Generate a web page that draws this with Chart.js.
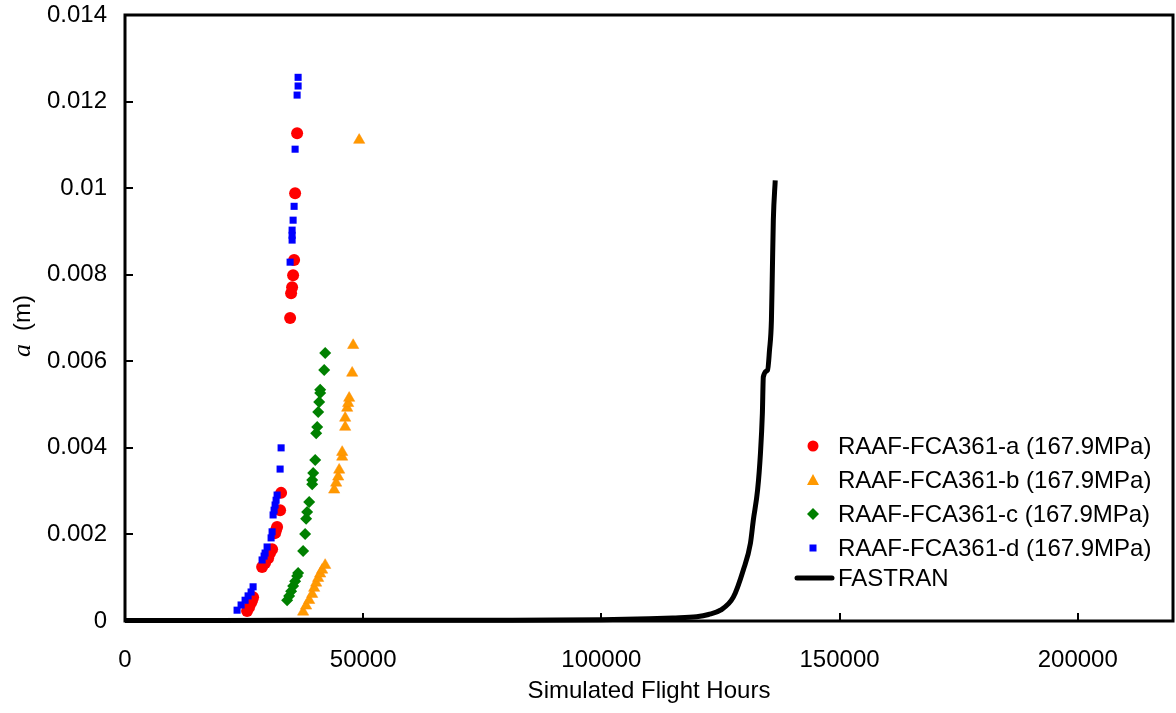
<!DOCTYPE html>
<html>
<head>
<meta charset="utf-8">
<script src="https://cdn.jsdelivr.net/npm/chart.js@4/dist/chart.umd.min.js"></script>
<style>
  html, body { margin: 0; padding: 0; background: #fff; overflow: hidden; }
  #wrap { width: 1176px; height: 713px; position: relative; }
  canvas { display: block; }
</style>
</head>
<body>
<div id="wrap"><canvas id="chart"></canvas></div>
<script>
// Messwerte RAAF-FCA361 (Stunden / Risslänge in m)
const aHours = [25630, 26050, 26470, 26680, 26890, 28780, 29410, 30040, 30460, 30880, 31510, 31720, 31930, 32560, 32770, 34660, 34870, 35080, 35290, 35500, 35710, 36130];
const aCrack = [0.00023, 0.00032, 0.00042, 0.00048, 0.00055, 0.00125, 0.00134, 0.00145, 0.00157, 0.00166, 0.00203, 0.0021, 0.00217, 0.00256, 0.00296, 0.0070, 0.00757, 0.00771, 0.00799, 0.00834, 0.00988, 0.01127];

const bHours = [37390, 38020, 38660, 39290, 39710, 40130, 40550, 40970, 41390, 42020, 43910, 44330, 44750, 44960, 45590, 45590, 46220, 46220, 46640, 46850, 47060, 47690, 47900, 49160];
const bCrack = [0.00021, 0.00035, 0.00048, 0.00062, 0.00076, 0.00088, 0.00099, 0.00109, 0.00118, 0.00129, 0.00303, 0.00319, 0.00333, 0.00349, 0.00379, 0.0039, 0.00448, 0.00469, 0.00492, 0.00503, 0.00515, 0.00573, 0.00637, 0.01111];

const cHours = [34030, 34450, 34870, 35290, 35710, 36130, 36340, 37390, 37810, 38020, 38230, 38660, 39290, 39290, 39500, 39920, 40130, 40340, 40550, 40760, 40970, 40970, 41810, 42020];
const cCrack = [0.00048, 0.00058, 0.00069, 0.00081, 0.00092, 0.00104, 0.00111, 0.00162, 0.00201, 0.00236, 0.00252, 0.00275, 0.00316, 0.00326, 0.00342, 0.00372, 0.00434, 0.00448, 0.00483, 0.00506, 0.00527, 0.00534, 0.0058, 0.00619];

const dHours = [23529, 24370, 25210, 25840, 26470, 26890, 28780, 29200, 29410, 29830, 30670, 30880, 31090, 31300, 31510, 31720, 31930, 32560, 32770, 34660, 35080, 35080, 35080, 35290, 35500, 35710, 36130, 36340, 36340];
const dCrack = [0.00025, 0.00037, 0.00048, 0.00058, 0.00067, 0.00079, 0.00141, 0.0015, 0.00157, 0.00171, 0.00192, 0.00206, 0.00245, 0.00256, 0.00268, 0.00279, 0.00291, 0.00351, 0.004, 0.00829, 0.0088, 0.00891, 0.00903, 0.00926, 0.00958, 0.0109, 0.01215, 0.01236, 0.01256];

// FASTRAN Vorhersage
const fastranHours = [0, 20000, 50000, 80000, 100000, 110000, 115000, 120000, 122500, 125000, 127700, 129800, 131300, 131900, 132800, 133400, 133800, 134000, 134900, 135300, 135700, 135900, 136100, 136500];
const fastranCrack = [0.00001, 0.00001, 0.00002, 0.00002, 0.00003, 0.00005, 0.00007, 0.0001, 0.00015, 0.00025, 0.00055, 0.00118, 0.0018, 0.00233, 0.00303, 0.00388, 0.0048, 0.00564, 0.0058, 0.00626, 0.00695, 0.00811, 0.00926, 0.01018];

const seriesNames = ['RAAF-FCA361-a (167.9MPa)', 'RAAF-FCA361-b (167.9MPa)', 'RAAF-FCA361-c (167.9MPa)', 'RAAF-FCA361-d (167.9MPa)', 'FASTRAN'];
const xTicks = [0, 50000, 100000, 150000, 200000];
const yTicks = [0, 0.002, 0.004, 0.006, 0.008, 0.01, 0.012, 0.014];

const FONT = '"Liberation Sans", Arial, sans-serif';

function toPoints(xs, ys) {
    return xs.map((x, i) => ({ x: x, y: ys[i] }));
}

// Rahmen, Tickmarken, Achsentitel und Legende
const framePlugin = {
    id: 'frame',
    afterDraw(chart) {
        const ctx = chart.ctx;
        const area = chart.chartArea;
        const xs = chart.scales.x;
        const ys = chart.scales.y;
        ctx.save();

        // Ticks nach innen
        ctx.strokeStyle = '#000';
        ctx.lineWidth = 2;
        ctx.beginPath();
        xTicks.forEach(v => {
            const px = Math.round(xs.getPixelForValue(v));
            ctx.moveTo(px, area.bottom);
            ctx.lineTo(px, area.bottom - 8);
        });
        yTicks.forEach(v => {
            const py = Math.round(ys.getPixelForValue(v));
            ctx.moveTo(area.left, py);
            ctx.lineTo(area.left + 8, py);
        });
        ctx.stroke();

        // Rahmen
        ctx.lineWidth = 3;
        ctx.strokeRect(area.left, area.top, area.right - area.left, area.bottom - area.top);

        // x-Titel
        ctx.fillStyle = '#000';
        ctx.font = '24px ' + FONT;
        ctx.textAlign = 'center';
        ctx.textBaseline = 'middle';
        ctx.fillText('Simulated Flight Hours', (area.left + area.right) / 2, 691);

        // y-Titel: kursives a + (m)
        ctx.save();
        ctx.translate(30, 357);
        ctx.rotate(-Math.PI / 2);
        ctx.textAlign = 'left';
        ctx.textBaseline = 'alphabetic';
        ctx.font = 'italic 26px "Liberation Serif", "Times New Roman", serif';
        ctx.fillText('a', 0, 0);
        const w = ctx.measureText('a').width;
        ctx.font = '24px ' + FONT;
        ctx.fillText('(m)', w + 13, 0);
        ctx.restore();

        // Legende
        const rows = [446, 480, 514, 548, 578];
        const mx = 813;
        chart.data.datasets.forEach((ds, i) => {
            const y = rows[i];
            ctx.fillStyle = ds.backgroundColor;
            ctx.beginPath();
            if (ds.pointStyle === 'circle') {
                ctx.arc(mx, y, 5.5, 0, Math.PI * 2);
                ctx.fill();
            } else if (ds.pointStyle === 'triangle') {
                ctx.moveTo(mx, y - 6);
                ctx.lineTo(mx + 6, y + 5);
                ctx.lineTo(mx - 6, y + 5);
                ctx.closePath();
                ctx.fill();
            } else if (ds.pointStyle === 'rectRot') {
                ctx.moveTo(mx, y - 6);
                ctx.lineTo(mx + 6, y);
                ctx.lineTo(mx, y + 6);
                ctx.lineTo(mx - 6, y);
                ctx.closePath();
                ctx.fill();
            } else if (ds.pointStyle === 'rect') {
                ctx.fillRect(mx - 3.5, y - 3.5, 7, 7);
            } else {
                ctx.strokeStyle = ds.borderColor;
                ctx.lineWidth = 5;
                ctx.lineCap = 'round';
                ctx.moveTo(797, y);
                ctx.lineTo(832, y);
                ctx.stroke();
            }
            ctx.fillStyle = '#000';
            ctx.font = '24px ' + FONT;
            ctx.textAlign = 'left';
            ctx.textBaseline = 'middle';
            ctx.fillText(ds.label, 838, y + 1);
        });

        ctx.restore();
    }
};

const ctx = document.getElementById('chart').getContext('2d');
new Chart(ctx, {
    type: 'scatter',
    data: {
        datasets: [
            {
                label: seriesNames[0], data: toPoints(aHours, aCrack),
                pointStyle: 'circle', pointRadius: 6, backgroundColor: '#ff0000', borderColor: '#ff0000',
                borderWidth: 0, order: 4
            },
            {
                label: seriesNames[1], data: toPoints(bHours, bCrack),
                pointStyle: 'triangle', pointRadius: 6.5, backgroundColor: '#ff9900', borderColor: '#ff8c00',
                borderWidth: 0.5, order: 3
            },
            {
                label: seriesNames[2], data: toPoints(cHours, cCrack),
                pointStyle: 'rectRot', pointRadius: 6, backgroundColor: '#008000', borderColor: '#008000',
                borderWidth: 0, order: 2
            },
            {
                label: seriesNames[3], data: toPoints(dHours, dCrack),
                pointStyle: 'rect', pointRadius: 5, backgroundColor: '#0000ff', borderColor: '#0000ff',
                borderWidth: 0, order: 1
            },
            {
                type: 'line', label: seriesNames[4], data: toPoints(fastranHours, fastranCrack),
                showLine: true, pointRadius: 0, borderColor: '#000', backgroundColor: '#000',
                borderWidth: 5, cubicInterpolationMode: 'monotone', clip: false, order: 5,
                pointStyle: 'line'
            }
        ]
    },
    options: {
        responsive: true,
        maintainAspectRatio: false,
        animation: false,
        devicePixelRatio: 1,
        layout: { autoPadding: false, padding: { left: 0, right: 3, top: 15, bottom: 0 } },
        plugins: {
            legend: { display: false },
            tooltip: { enabled: false }
        },
        scales: {
            x: {
                type: 'linear', min: 0, max: 220000,
                grid: { display: false, drawTicks: false },
                border: { display: false },
                afterFit: s => {
                    s.height = 92;
                    s.paddingLeft = 0;
                    s.paddingRight = 0;
                },
                afterBuildTicks: s => { s.ticks = xTicks.map(v => ({ value: v })); },
                ticks: {
                    padding: 25, color: '#000', maxRotation: 0,
                    font: { size: 24, family: FONT },
                    callback: v => String(v)
                }
            },
            y: {
                type: 'linear', min: 0, max: 0.014,
                grid: { display: false, drawTicks: false },
                border: { display: false },
                afterFit: s => {
                    s.width = 125;
                    s.paddingTop = 0;
                    s.paddingBottom = 0;
                },
                afterBuildTicks: s => { s.ticks = yTicks.map(v => ({ value: v })); },
                ticks: {
                    padding: 18, color: '#000',
                    font: { size: 24, family: FONT },
                    callback: v => String(Number(v.toFixed(3)))
                }
            }
        }
    },
    plugins: [framePlugin]
});
</script>
</body>
</html>
